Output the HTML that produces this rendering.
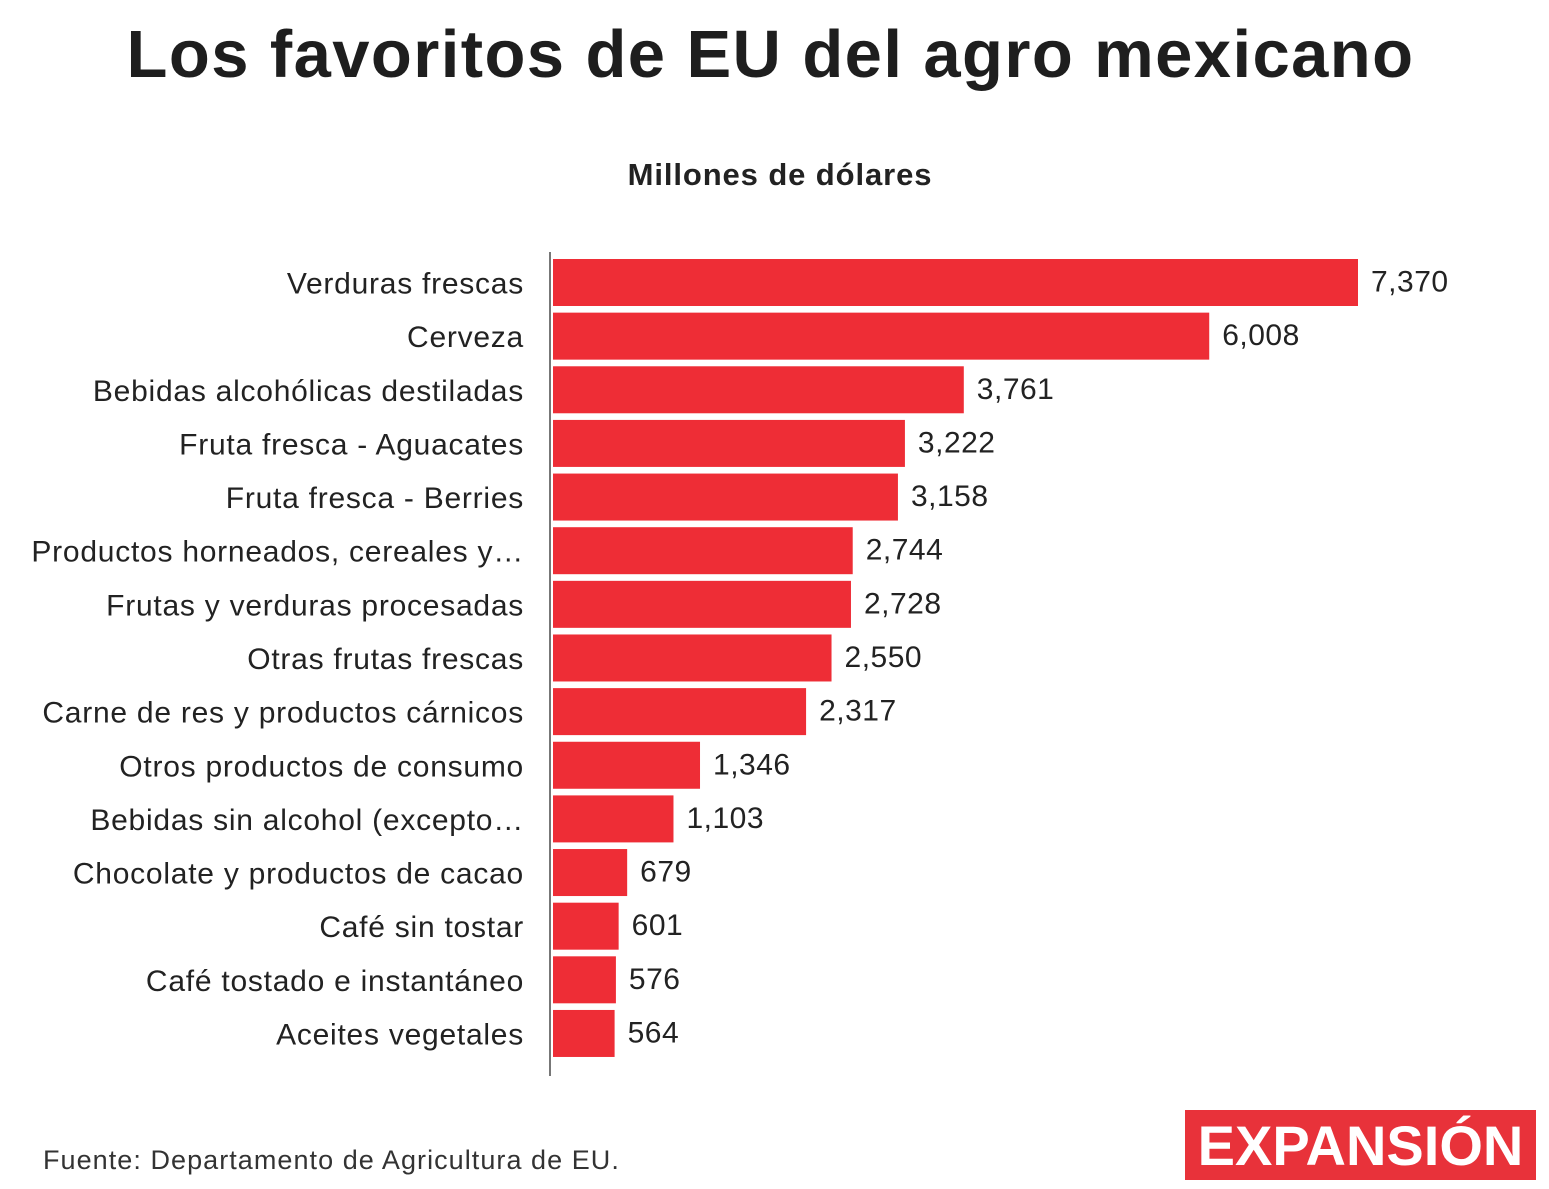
<!DOCTYPE html>
<html><head><meta charset="utf-8">
<style>
body{margin:0;width:1549px;height:1189px;background:#fff;font-family:"Liberation Sans",sans-serif;overflow:hidden;position:relative;color:#222}
#title{position:absolute;left:0;width:1541px;top:16px;text-align:center;font-size:67px;font-weight:bold;color:#1e1e1e;letter-spacing:1.4px}
#sub{position:absolute;left:0;width:1560px;top:157px;text-align:center;font-size:31px;font-weight:bold;color:#222;letter-spacing:0.9px}
#src{position:absolute;left:43px;top:1145px;font-size:27px;color:#333;letter-spacing:1.05px}
#logo{position:absolute;left:1185px;top:1110px;width:351px;height:70px;background:#e8323a;color:#fff;font-size:56px;font-weight:bold;text-align:center;line-height:72px;letter-spacing:0px}
</style></head><body>
<div id="title">Los favoritos de EU del agro mexicano</div>
<div id="sub">Millones de dólares</div>
<svg id="chart" width="1549" height="1189" style="position:absolute;left:0;top:0"></svg>
<div id="src">Fuente: Departamento de Agricultura de EU.</div>
<div id="logo">EXPANSIÓN</div>
<script>
const categories=["Verduras frescas","Cerveza","Bebidas alcohólicas destiladas","Fruta fresca - Aguacates","Fruta fresca - Berries","Productos horneados, cereales y…","Frutas y verduras procesadas","Otras frutas frescas","Carne de res y productos cárnicos","Otros productos de consumo","Bebidas sin alcohol (excepto…","Chocolate y productos de cacao","Café sin tostar","Café tostado e instantáneo","Aceites vegetales"];
const values=[7370,6008,3761,3222,3158,2744,2728,2550,2317,1346,1103,679,601,576,564];
const valueLabels=["7,370","6,008","3,761","3,222","3,158","2,744","2,728","2,550","2,317","1,346","1,103","679","601","576","564"];
const svg=document.getElementById('chart');
const NS='http://www.w3.org/2000/svg';
const x0=553, xMaxPx=1358, vMax=7370;
const x=v=>x0+(v/vMax)*(xMaxPx-x0);
const y0=259, step=53.64, bh=47;
const y=i=>y0+i*step;
function mk(t,a){const e=document.createElementNS(NS,t);for(const k in a)e.setAttribute(k,a[k]);svg.appendChild(e);return e;}
values.forEach((v,i)=>{
  const r=mk('rect',{x:x0,y:y(i),width:x(v)-x0,height:bh,fill:'#ee2d36'});
  
  
  const l=mk('text',{x:524,y:y(i)+bh/2+11,'text-anchor':'end','font-size':30,fill:'#222','letter-spacing':'0.75','font-family':'Liberation Sans, sans-serif'});
  l.textContent=categories[i];
  
  
  const t=mk('text',{x:x(v)+13,y:y(i)+bh/2+9,'font-size':30,fill:'#222','letter-spacing':'0.5','font-family':'Liberation Sans, sans-serif'});
  t.textContent=valueLabels[i];
  
  
});
const ax=mk('line',{x1:550,x2:550,y1:252,y2:1076,stroke:'#777','stroke-width':2});


</script>
</body></html>
